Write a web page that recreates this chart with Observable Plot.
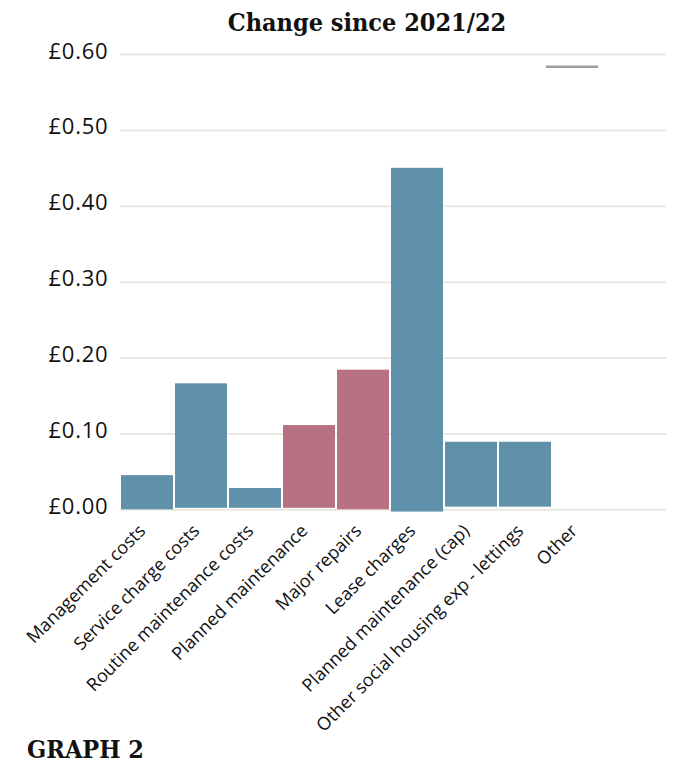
<!DOCTYPE html>
<html>
<head>
<meta charset="utf-8">
<script src="https://cdn.jsdelivr.net/npm/d3@7"></script>
<script src="https://cdn.jsdelivr.net/npm/@observablehq/plot@0.6"></script>
<style>
  body { margin: 0; background: #fff; }
  #wrap { position: relative; width: 683px; height: 765px; overflow: hidden; }
  #title { position: absolute; left: 0; width: 734px; top: 8px; text-align: center;
    font-family: "DejaVu Serif Condensed", "DejaVu Serif", serif; font-weight: bold; font-size: 25px; line-height: 30px; color: #111; }
  #chart { position: absolute; left: 0; top: 20px; }
  #chart svg { overflow: visible; }
  #caption { position: absolute; left: 27px; top: 735px;
    font-family: "DejaVu Serif Condensed", "DejaVu Serif", serif; font-weight: bold; font-size: 25px; line-height: 30px; color: #111; }
  g[aria-label="y-axis tick label"] text { font-family: "Open Sans", sans-serif; letter-spacing: 0.8px; }
  g[aria-label="x-axis tick label"] text { font-family: "Open Sans", sans-serif; }
</style>
</head>
<body>
<div id="wrap">
  <div id="title">Change since 2021/22</div>
  <div id="chart"></div>
  <div id="caption">GRAPH 2</div>
</div>
<script>
const categories = ["Management costs", "Service charge costs", "Routine maintenance costs", "Planned maintenance", "Major repairs", "Lease charges", "Planned maintenance (cap)", "Other social housing exp - lettings", "Other"];
const values = [0.045, 0.166, 0.028, 0.111, 0.184, 0.450, 0.089, 0.089, null];
const bases = [0, 0.002, 0.002, 0.002, 0, -0.003, 0.0035, 0.0035, null];
const highlighted = ["Planned maintenance", "Major repairs"];
const markerCategory = "Other";
const markerValue = 0.584;
const yTicks = [0, 0.1, 0.2, 0.3, 0.4, 0.5, 0.6];

const data = categories.map((c, i) => ({category: c, value: values[i], base: bases[i]})).filter(d => d.value != null);

const chart = Plot.plot({
  width: 683,
  height: 745,
  marginTop: 34,
  marginBottom: 255.7,
  marginLeft: 120,
  marginRight: 17,
  x: {domain: categories, range: [119.5, 607.1], paddingInner: 0.04, paddingOuter: 0.02, label: null},
  y: {domain: [0, 0.6], label: null},
  marks: [
    Plot.gridY(yTicks, {stroke: "#ebe8e2", strokeOpacity: 1, strokeWidth: 2}),
    Plot.barY(data, {x: "category", y1: "base", y2: "value",
      fill: d => highlighted.includes(d.category) ? "#b87083" : "#5f91aa"}),
    Plot.tickY([{category: markerCategory, value: markerValue}], {x: "category", y: "value", stroke: "#a39b95", strokeWidth: 2.5, dx: -7}),
    Plot.axisY(yTicks, {tickSize: 0, tickPadding: 12, tickFormat: d => "£" + d.toFixed(2), fontSize: 22, dy: -3, fill: "#111"}),
    Plot.axisX({tickSize: 0, tickRotate: -45, tickPadding: 18, dx: -5, fontSize: 18, label: null, fill: "#111"})
  ]
});
document.getElementById("chart").appendChild(chart);
</script>
</body>
</html>
